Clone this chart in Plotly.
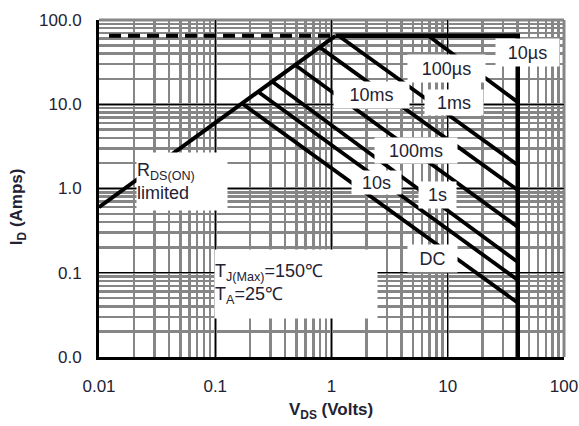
import plotly.graph_objects as go

# ---- data ----
rds_v = [0.01, 1.08]
rds_i = [0.6, 65]
dash_v = [0.0122, 1.08]
dash_i = [65, 65]
limit_v = [1.08, 40, 40]          # 10us limit: top current then voltage wall
limit_i = [65, 65, 0.01]

pulse_names = ["DC", "10s", "1s", "100ms", "10ms", "1ms", "100µs"]
pulse_start_v = [0.17, 0.235, 0.31, 0.49, 0.80, 1.15, 6.8]
pulse_start_i = [10.2, 14.0, 18.5, 29.0, 47.0, 65.0, 65.0]
pulse_end_v = [40, 40, 40, 40, 40, 40, 40]
pulse_end_i = [0.044, 0.082, 0.134, 0.35, 0.96, 1.9, 10.6]

x_tickvals = [0.01, 0.1, 1, 10, 100]
x_ticktext = ["0.01", "0.1", "1", "10", "100"]
y_tickvals = [0.01, 0.1, 1, 10, 100]
y_ticktext = ["0.0", "0.1", "1.0", "10.0", "100.0"]

# label positions (log10 units) and box sizes
labels = [
    ("10µs", 1.682, 1.620, 63, 27),
    ("100µs", 0.985, 1.430, 77, 27),
    ("1ms", 1.054, 1.015, 58, 25),
    ("10ms", 0.348, 1.110, 75, 26),
    ("100ms", 0.727, 0.457, 82, 25),
    ("10s", 0.391, 0.077, 49, 23),
    ("1s", 0.916, -0.077, 37, 26),
    ("DC", 0.865, -0.825, 49, 27),
]

FONT = "Liberation Sans, Arial, sans-serif"
TXT = "#222233"

fig = go.Figure()

fig.add_trace(go.Scatter(x=dash_v, y=dash_i, mode="lines",
                         line=dict(color="black", width=4, dash="12px,7px"),
                         showlegend=False, hoverinfo="skip"))
fig.add_trace(go.Scatter(x=rds_v, y=rds_i, mode="lines",
                         line=dict(color="black", width=4),
                         showlegend=False, hoverinfo="skip"))
fig.add_trace(go.Scatter(x=limit_v, y=limit_i, mode="lines",
                         line=dict(color="black", width=4.5),
                         showlegend=False, hoverinfo="skip"))
for n, sv, si, ev, ei in zip(pulse_names, pulse_start_v, pulse_start_i,
                             pulse_end_v, pulse_end_i):
    fig.add_trace(go.Scatter(x=[sv, ev], y=[si, ei], mode="lines", name=n,
                             line=dict(color="black", width=3.8),
                             showlegend=False, hoverinfo="skip"))

annotations = []
for text, lx, ly, w, h in labels:
    annotations.append(dict(x=lx, y=ly, xref="x", yref="y", text=text,
                            showarrow=False, bgcolor="white", borderpad=0,
                            width=w, height=h, align="center",
                            font=dict(family=FONT, size=18, color=TXT)))

annotations.append(dict(x=-1.286, y=0.089, xref="x", yref="y",
                        text="R<sub>DS(ON)</sub><br>limited",
                        showarrow=False, bgcolor="white", borderpad=0,
                        width=90, height=57, align="left",
                        font=dict(family=FONT, size=18, color=TXT)))
annotations.append(dict(x=-0.305, y=-1.134, xref="x", yref="y",
                        text="T<sub>J(Max)</sub>=150℃<br>T<sub>A</sub>=25℃",
                        showarrow=False, bgcolor="white", borderpad=0,
                        width=162, height=68, align="left",
                        font=dict(family=FONT, size=18, color=TXT)))

annotations.append(dict(x=-0.174, y=0.445, xref="paper", yref="paper",
                        xanchor="center", yanchor="middle",
                        text="<b>I<sub>D</sub> (Amps)</b>", textangle=-90,
                        showarrow=False,
                        font=dict(family=FONT, size=17, color=TXT)))
annotations.append(dict(x=0.499, y=-0.16, xref="paper", yref="paper",
                        xanchor="center", yanchor="middle",
                        text="<b>V<sub>DS</sub> (Volts)</b>",
                        showarrow=False,
                        font=dict(family=FONT, size=17, color=TXT)))

GRID = "#868686"
axis_common = dict(type="log", range=[-2, 2], automargin=False,
                   showgrid=True, gridcolor="black", gridwidth=1,
                   minor=dict(showgrid=True, gridcolor=GRID, gridwidth=2.5,
                              dtick="D1", ticks=""),
                   showline=True, linecolor="black", linewidth=3,
                   ticks="", zeroline=False,
                   tickfont=dict(family=FONT, size=17, color=TXT))

fig.update_xaxes(**axis_common, tickvals=x_tickvals, ticktext=x_ticktext,
                 ticklabelstandoff=12)
fig.update_yaxes(**axis_common, tickvals=y_tickvals, ticktext=y_ticktext,
                 ticklabelstandoff=11)

fig.update_layout(
    width=579, height=426,
    margin=dict(l=99, r=15, t=20, b=69),
    paper_bgcolor="white", plot_bgcolor="white",
    annotations=annotations,
    shapes=[
        dict(type="line", xref="paper", yref="paper", x0=0, x1=1, y0=1, y1=1,
             line=dict(color=GRID, width=3), layer="below"),
        dict(type="line", xref="paper", yref="paper", x0=1, x1=1, y0=0, y1=1,
             line=dict(color=GRID, width=3), layer="below"),
    ],
)

fig.write_html(
    "out.html",
    config={"displayModeBar": False, "staticPlot": True},
    post_script="document.body.style.margin='0';"
                "document.body.style.overflow='hidden';",
)
